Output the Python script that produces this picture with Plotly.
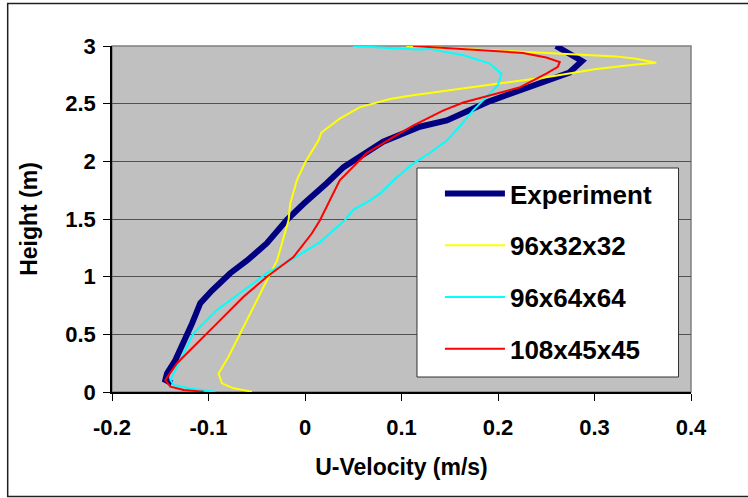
import plotly.graph_objects as go

# ---- data ----
exp_u = [0.260, 0.287, 0.274, 0.191, 0.147, 0.119, 0.081, 0.057, 0.040, 0.0225, 0.0087,
         -0.0017, -0.019, -0.0395, -0.060, -0.0775, -0.0964, -0.1085, -0.117, -0.1257,
         -0.1343, -0.143, -0.1447, -0.138]
exp_h = [3.00, 2.87, 2.77, 2.52, 2.355, 2.30, 2.17, 2.05, 1.95, 1.81, 1.71,
         1.63, 1.49, 1.29, 1.14, 1.03, 0.88, 0.77, 0.595, 0.42,
         0.277, 0.16, 0.104, 0.075]

y32_u = [0.105, 0.226, 0.285, 0.322, 0.343, 0.364, 0.343, 0.302, 0.250, 0.198, 0.147,
         0.110, 0.088, 0.057, 0.036, 0.017, 0.0139, 0.0001, -0.0085, -0.0154, -0.017,
         -0.029, -0.043, -0.0568, -0.0706, -0.0793, -0.0896, -0.086, -0.074, -0.055]
y32_h = [3.00, 2.95, 2.92, 2.91, 2.89, 2.855, 2.84, 2.80, 2.73, 2.67, 2.615,
         2.57, 2.54, 2.47, 2.37, 2.25, 2.18, 1.99, 1.835, 1.63, 1.49,
         1.14, 0.91, 0.68, 0.45, 0.306, 0.16, 0.075, 0.032, 0.003]

c64_u = [0.050, 0.0776, 0.116, 0.129, 0.164, 0.191, 0.2035, 0.200, 0.188, 0.174, 0.160,
         0.147, 0.129, 0.112, 0.095, 0.0777, 0.067, 0.050, 0.0414, 0.0294, 0.0156,
         -0.0154, -0.0395, -0.0637, -0.0914, -0.1154, -0.1257, -0.1326, -0.1395, -0.136,
         -0.119, -0.093]
c64_h = [3.00, 2.99, 2.97, 2.975, 2.92, 2.85, 2.76, 2.66, 2.56, 2.44, 2.30,
         2.18, 2.07, 1.98, 1.86, 1.72, 1.66, 1.58, 1.49, 1.40, 1.30,
         1.14, 1.03, 0.88, 0.71, 0.51, 0.335, 0.22, 0.104, 0.06,
         0.03, 0.003]

r45_u = [0.112, 0.164, 0.226, 0.250, 0.264, 0.262, 0.250, 0.222, 0.191, 0.164, 0.143,
         0.112, 0.0914, 0.0637, 0.036, 0.0258, 0.0155, 0.007, -0.012, -0.0395, -0.0637,
         -0.0912, -0.1154, -0.1326, -0.1447, -0.1395, -0.1257, -0.105]
r45_h = [3.00, 2.97, 2.94, 2.90, 2.86, 2.82, 2.76, 2.64, 2.57, 2.51, 2.44,
         2.31, 2.21, 2.07, 1.835, 1.66, 1.49, 1.374, 1.17, 1.00, 0.825,
         0.595, 0.39, 0.25, 0.104, 0.046, 0.017, 0.003]

series_names = ["Experiment", "96x32x32", "96x64x64", "108x45x45"]
x_ticks = [-0.2, -0.1, 0, 0.1, 0.2, 0.3, 0.4]
x_tick_text = ["-0.2", "-0.1", "0", "0.1", "0.2", "0.3", "0.4"]
y_ticks = [0, 0.5, 1, 1.5, 2, 2.5, 3]
y_tick_text = ["0", "0.5", "1", "1.5", "2", "2.5", "3"]

FONT = "Liberation Sans, Arial, sans-serif"

fig = go.Figure()
styles = [("#000080", 6), ("#FFFF00", 2), ("#00FFFF", 2), ("#FF0000", 2)]
datasets = [(exp_u, exp_h), (y32_u, y32_h), (c64_u, c64_h), (r45_u, r45_h)]
for name, (u, h), (col, w) in zip(series_names, datasets, styles):
    fig.add_trace(go.Scatter(x=u, y=h, mode="lines", name=name, legendgroup=name,
                             line=dict(color=col, width=w), hoverinfo="x+y+name"))

W, H = 748, 498
L, R, T, B = 111.5, 56.5, 46, 106
pw, ph = W - L - R, H - T - B

def px2paper_x(px):
    return (px - L) / pw

def px2paper_y(py):
    return (H - B - py) / ph

fig.update_layout(
    width=W, height=H,
    margin=dict(l=L, r=R, t=T, b=B, pad=0, autoexpand=False),
    paper_bgcolor="white",
    plot_bgcolor="#C0C0C0",
    font=dict(family=FONT, color="black", size=20, weight="bold"),
    showlegend=True,
    legend=dict(
        x=px2paper_x(440), y=px2paper_y(170), xanchor="left", yanchor="top",
        bgcolor="rgba(0,0,0,0)", borderwidth=0,
        font=dict(family=FONT, size=26, color="black", weight="bold"),
        tracegroupgap=15, itemwidth=60,
        traceorder="grouped",
    ),
    xaxis=dict(
        range=[-0.2, 0.4], tickvals=x_ticks, ticktext=x_tick_text,
        showgrid=False, zeroline=False,
        showline=True, linecolor="black", linewidth=1.5,
        ticks="outside", ticklen=7, tickcolor="black", tickwidth=1,
        ticklabelstandoff=8,
        tickfont=dict(family=FONT, size=22, color="black", weight="bold"),
        title=dict(text="U-Velocity (m/s)", standoff=20,
                   font=dict(family=FONT, size=23, color="black", weight="bold")),
        fixedrange=True,
    ),
    yaxis=dict(
        range=[0, 3], tickvals=y_ticks, ticktext=y_tick_text,
        showgrid=True, gridcolor="#505050", gridwidth=1,
        zeroline=False,
        showline=True, linecolor="black", linewidth=1.5,
        ticks="outside", ticklen=7, tickcolor="black", tickwidth=1,
        ticklabelstandoff=3,
        tickfont=dict(family=FONT, size=22, color="black", weight="bold"),
        title=dict(text="Height (m)", standoff=21,
                   font=dict(family=FONT, size=23, color="black", weight="bold")),
        fixedrange=True,
    ),
    shapes=[
        # gray frame of the plot area (top / right)
        dict(type="rect", xref="paper", yref="paper", x0=0, x1=1, y0=0, y1=1,
             line=dict(color="#808080", width=1.5), layer="below"),
        # legend box
        dict(type="rect", xref="paper", yref="paper",
             x0=px2paper_x(417), x1=px2paper_x(679),
             y0=px2paper_y(377), y1=px2paper_y(168),
             fillcolor="white", line=dict(color="#303030", width=1), layer="above"),
        # outer chart border
        dict(type="rect", xref="paper", yref="paper",
             x0=px2paper_x(7), x1=px2paper_x(752),
             y0=px2paper_y(496.5), y1=px2paper_y(3.5),
             line=dict(color="#202020", width=1.5)),
    ],
)

fig.write_html("out.html", config={"displayModeBar": False},
               post_script="document.body.style.margin='0px';")
